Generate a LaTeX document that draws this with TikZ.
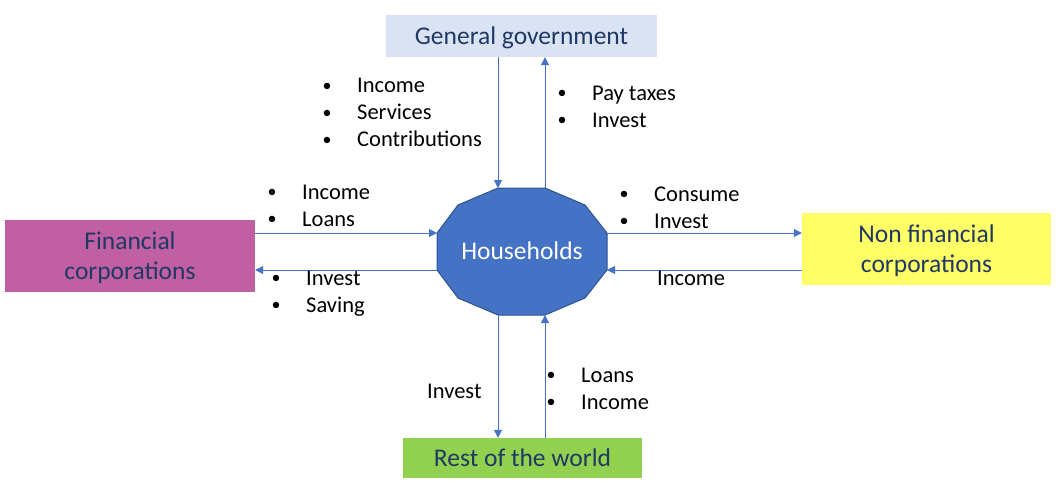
\documentclass[tikz,border=0pt]{standalone}
\usepackage{fontspec}
\setmainfont{Carlito}
\usetikzlibrary{arrows.meta}
\definecolor{navy}{HTML}{203864}
\definecolor{govblue}{HTML}{DAE3F3}
\definecolor{finpink}{HTML}{C05FA2}
\definecolor{nfyellow}{HTML}{FFFF66}
\definecolor{rwgreen}{HTML}{92D050}
\definecolor{hhblue}{HTML}{4472C4}
\definecolor{hhedge}{HTML}{2F528F}
\newcommand{\bl}{\makebox[34.6pt][l]{\raisebox{1.4pt}{\fontsize{18}{18}\selectfont\textbullet}}}

\begin{document}
\begin{tikzpicture}[x=1pt, y=-1pt,
  sector/.style={inner sep=0pt, text=navy, text depth=0pt, align=center, font=\fontsize{25.5}{30}\selectfont},
  flow/.style={draw=hhblue, line width=1pt, -{Triangle[length=8pt, width=8pt]}},
  lbl/.style={inner sep=0pt, anchor=base west, align=left, font=\fontsize{22.5}{27}\selectfont}]
\useasboundingbox (0,0) rectangle (1059,491);
\node[sector, fill=govblue, minimum width=271pt, minimum height=42pt] (gg) at (521.5,36) {General government};
\node[sector, fill=finpink, minimum width=250pt, minimum height=72pt] (fc) at (130,256) {Financial\\corporations};
\node[sector, fill=nfyellow, minimum width=249pt, minimum height=72pt] (nfc) at (926.5,249) {Non financial\\corporations};
\node[sector, fill=rwgreen, minimum width=239pt, minimum height=40pt] (rw) at (522.5,458) {Rest of the world};
\draw[fill=hhblue, draw=hhedge, line width=1pt] (498,188) coordinate (h1) -- (545,188) coordinate (h2) -- (585,205)
  -- (607,233) coordinate (h3) -- (607,270) coordinate (h4) -- (585,298) -- (545,315) coordinate (h5)
  -- (498,315) coordinate (h6) -- (458,298) -- (437,270) coordinate (h7) -- (437,233) coordinate (h8) -- (458,205) -- cycle;
\node[sector, text=white] (hh) at (522,251) {Households};
\draw[flow] (gg.south -| h1) -- (h1);
\draw[flow] (h2) -- (gg.south -| h2);
\draw[flow] (fc.east |- h8) -- (h8);
\draw[flow] (h7) -- (fc.east |- h7);
\draw[flow] (h3) -- (nfc.west |- h3);
\draw[flow] (nfc.west |- h4) -- (h4);
\draw[flow] (h6) -- (rw.north -| h6);
\draw[flow] (rw.north -| h5) -- (h5);
\node[lbl] (gg-in) at (322.4,146.5) {\bl Income\\\bl Services\\\bl Contributions};
\node[lbl] (gg-out) at (557.4,127) {\bl Pay taxes\\\bl Invest};
\node[lbl] (fc-in) at (267.4,226) {\bl Income\\\bl Loans};
\node[lbl] (fc-out) at (271.4,312) {\bl Invest\\\bl Saving};
\node[lbl] (nfc-out) at (619.4,228) {\bl Consume\\\bl Invest};
\node[lbl] (nfc-in) at (657,285) {Income};
\node[lbl] (rw-out) at (427,398) {Invest};
\node[lbl] (rw-in) at (546.4,409) {\bl Loans\\\bl Income};
\end{tikzpicture}
\end{document}
